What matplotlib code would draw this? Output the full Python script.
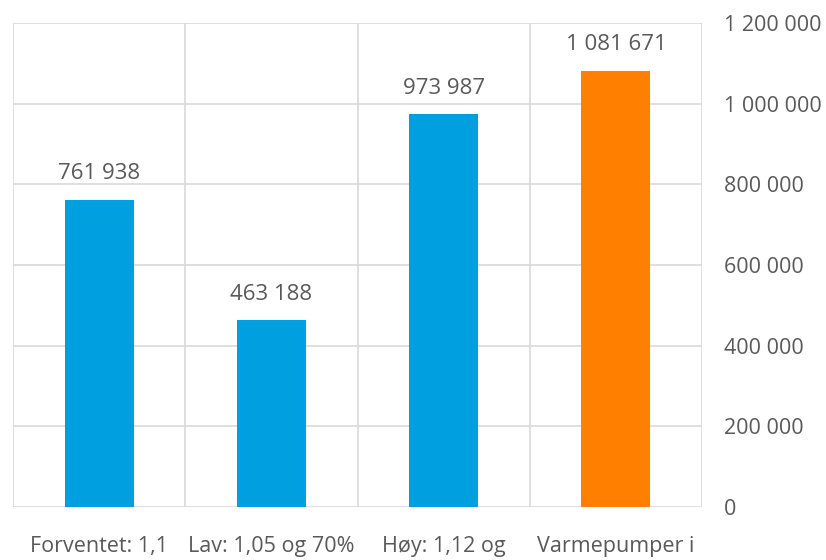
import matplotlib.pyplot as plt
from matplotlib.ticker import FuncFormatter, FixedLocator

# data
categories = ['Forventet: 1,1', 'Lav: 1,05 og 70%', 'Høy: 1,12 og', 'Varmepumper i']
values = [761938, 463188, 973987, 1081671]
bar_colors = ['#009FDF', '#009FDF', '#009FDF', '#FF8000']
yticks = [0, 200000, 400000, 600000, 800000, 1000000, 1200000]

plt.rcParams['font.family'] = ['Open Sans', 'DejaVu Sans']
text_col = '#595959'
grid_col = '#D9D9D9'


def space_fmt(v, _pos=None):
    return '{:,.0f}'.format(v).replace(',', ' ')


fig = plt.figure(figsize=(8.26, 5.6), dpi=100)
ax = fig.add_axes([13 / 826, 53 / 560, 689 / 826, 484 / 560])

x = range(len(categories))
bars = ax.bar(x, values, width=0.4, color=bar_colors, zorder=3)

for rect, val in zip(bars, values):
    ax.annotate(space_fmt(val), (rect.get_x() + rect.get_width() / 2, val),
                xytext=(0, 11), textcoords='offset points',
                ha='center', va='bottom', fontsize=16, color=text_col)

ax.set_xlim(-0.5, len(categories) - 0.5)
ax.set_ylim(0, 1200000)

# category boundaries as vertical grid lines
ax.xaxis.set_minor_locator(FixedLocator([i - 0.5 for i in range(len(categories) + 1)]))
ax.set_xticks(list(x))
ax.set_xticklabels(categories)
ax.grid(which='minor', axis='x', color=grid_col, linewidth=1.2, zorder=0)
ax.tick_params(axis='x', which='both', length=0, pad=21, labelsize=15.5,
               labelcolor=text_col)

ax.yaxis.tick_right()
ax.set_yticks(yticks)
ax.yaxis.set_major_formatter(FuncFormatter(space_fmt))
ax.grid(which='major', axis='y', color=grid_col, linewidth=1.2, zorder=0)
ax.tick_params(axis='y', length=0, pad=16, labelsize=15.5, labelcolor=text_col)

for s in ax.spines.values():
    s.set_visible(False)

fig.savefig('out.png', dpi=100, facecolor='white')
